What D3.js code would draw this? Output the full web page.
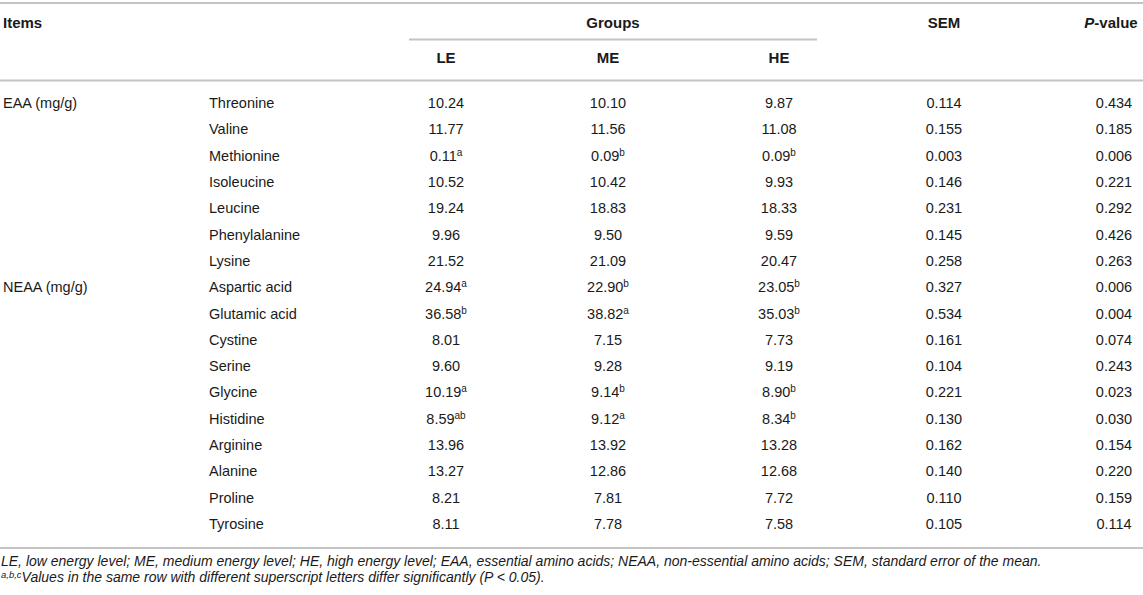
<!DOCTYPE html>
<html>
<head>
<meta charset="utf-8">
<script src="https://cdn.jsdelivr.net/npm/d3@7"></script>
<style>
  html, body { margin: 0; padding: 0; background: #fff; }
  svg text { font-family: "Liberation Sans", Arial, Helvetica, sans-serif; fill: #1a1a1a; }
</style>
</head>
<body>
<div id="table"></div>
<script>
const W = 1143, H = 595;

// row groups
const groupLabels = ["EAA (mg/g)", "NEAA (mg/g)"];
const eaaItems = ["Threonine", "Valine", "Methionine", "Isoleucine", "Leucine", "Phenylalanine", "Lysine"];
const neaaItems = ["Aspartic acid", "Glutamic acid", "Cystine", "Serine", "Glycine", "Histidine",
  "Arginine", "Alanine", "Proline", "Tyrosine"];
const items = eaaItems.concat(neaaItems);

// column headers
const groupNames = ["LE", "ME", "HE"];

// values
const leVals = [10.24, 11.77, 0.11, 10.52, 19.24, 9.96, 21.52, 24.94, 36.58, 8.01, 9.60, 10.19, 8.59, 13.96, 13.27, 8.21, 8.11];
const leSup  = ["", "", "a", "", "", "", "", "a", "b", "", "", "a", "ab", "", "", "", ""];
const meVals = [10.10, 11.56, 0.09, 10.42, 18.83, 9.50, 21.09, 22.90, 38.82, 7.15, 9.28, 9.14, 9.12, 13.92, 12.86, 7.81, 7.78];
const meSup  = ["", "", "b", "", "", "", "", "b", "a", "", "", "b", "a", "", "", "", ""];
const heVals = [9.87, 11.08, 0.09, 9.93, 18.33, 9.59, 20.47, 23.05, 35.03, 7.73, 9.19, 8.90, 8.34, 13.28, 12.68, 7.72, 7.58];
const heSup  = ["", "", "b", "", "", "", "", "b", "b", "", "", "b", "b", "", "", "", ""];
const semVals = [0.114, 0.155, 0.003, 0.146, 0.231, 0.145, 0.258, 0.327, 0.534, 0.161, 0.104, 0.221, 0.130, 0.162, 0.140, 0.110, 0.105];
const pVals   = [0.434, 0.185, 0.006, 0.221, 0.292, 0.426, 0.263, 0.006, 0.004, 0.074, 0.243, 0.023, 0.030, 0.154, 0.220, 0.159, 0.114];

const footnote1 = "LE, low energy level; ME, medium energy level; HE, high energy level; EAA, essential amino acids; NEAA, non-essential amino acids; SEM, standard error of the mean.";
const footnote2 = "Values in the same row with different superscript letters differ significantly (P < 0.05).";

const svg = d3.select("#table").append("svg")
  .attr("width", W)
  .attr("height", H);

// column centres
const colX = d3.scaleOrdinal()
  .domain(["LE", "ME", "HE", "SEM", "P"])
  .range([446, 608, 779, 944, 1114]);

// row baselines
const y = d3.scalePoint()
  .domain(items)
  .range([108, 529]);

const lineColor = "#c4c4c4";
function hline(x1, x2, yy) {
  svg.append("line")
    .attr("x1", x1).attr("x2", x2)
    .attr("y1", yy).attr("y2", yy)
    .attr("stroke", lineColor)
    .attr("stroke-width", 1.8);
}

hline(0, 1143, 3);
hline(409, 817, 39.5);
hline(0, 1143, 80.5);
hline(0, 1143, 548);

// header
const head = svg.append("g").attr("font-size", 15).attr("font-weight", "bold");
head.append("text").attr("x", 3).attr("y", 28).text("Items");
head.append("text").attr("x", 613).attr("y", 28).attr("text-anchor", "middle").text("Groups");
head.append("text").attr("x", colX("SEM")).attr("y", 28).attr("text-anchor", "middle").text("SEM");
const pHead = head.append("text").attr("x", colX("P") - 3).attr("y", 28).attr("text-anchor", "middle");
pHead.append("tspan").attr("font-style", "italic").text("P");
pHead.append("tspan").text("-value");

head.selectAll(".grp")
  .data(groupNames)
  .enter().append("text")
  .attr("class", "grp")
  .attr("x", d => colX(d))
  .attr("y", 63)
  .attr("text-anchor", "middle")
  .text(d => d);

// body
const body = svg.append("g").attr("font-size", 14.5);

body.append("text").attr("x", 3).attr("y", y(eaaItems[0])).text(groupLabels[0]);
body.append("text").attr("x", 3).attr("y", y(neaaItems[0])).text(groupLabels[1]);

body.selectAll(".item")
  .data(items)
  .enter().append("text")
  .attr("class", "item")
  .attr("x", 209)
  .attr("y", d => y(d))
  .text(d => d);

function valueColumn(key, vals, sups, digits) {
  const t = body.selectAll(".c" + key)
    .data(items)
    .enter().append("text")
    .attr("class", "c" + key)
    .attr("x", colX(key))
    .attr("y", d => y(d))
    .attr("text-anchor", "middle");
  t.append("tspan").text((d, i) => vals[i].toFixed(digits));
  if (sups) {
    t.append("tspan")
      .attr("font-size", 10)
      .attr("dy", -5)
      .text((d, i) => sups[i]);
  }
}

valueColumn("LE", leVals, leSup, 2);
valueColumn("ME", meVals, meSup, 2);
valueColumn("HE", heVals, heSup, 2);
valueColumn("SEM", semVals, null, 3);
valueColumn("P", pVals, null, 3);

// footnotes
const foot = svg.append("g").attr("font-size", 14).attr("font-style", "italic");
foot.append("text").attr("x", 1).attr("y", 566).text(footnote1);
const f2 = foot.append("text").attr("x", 1).attr("y", 582);
f2.append("tspan").attr("font-size", 9.5).attr("dy", -4).text("a,b,c");
f2.append("tspan").attr("dy", 4).text(footnote2);
</script>
</body>
</html>
